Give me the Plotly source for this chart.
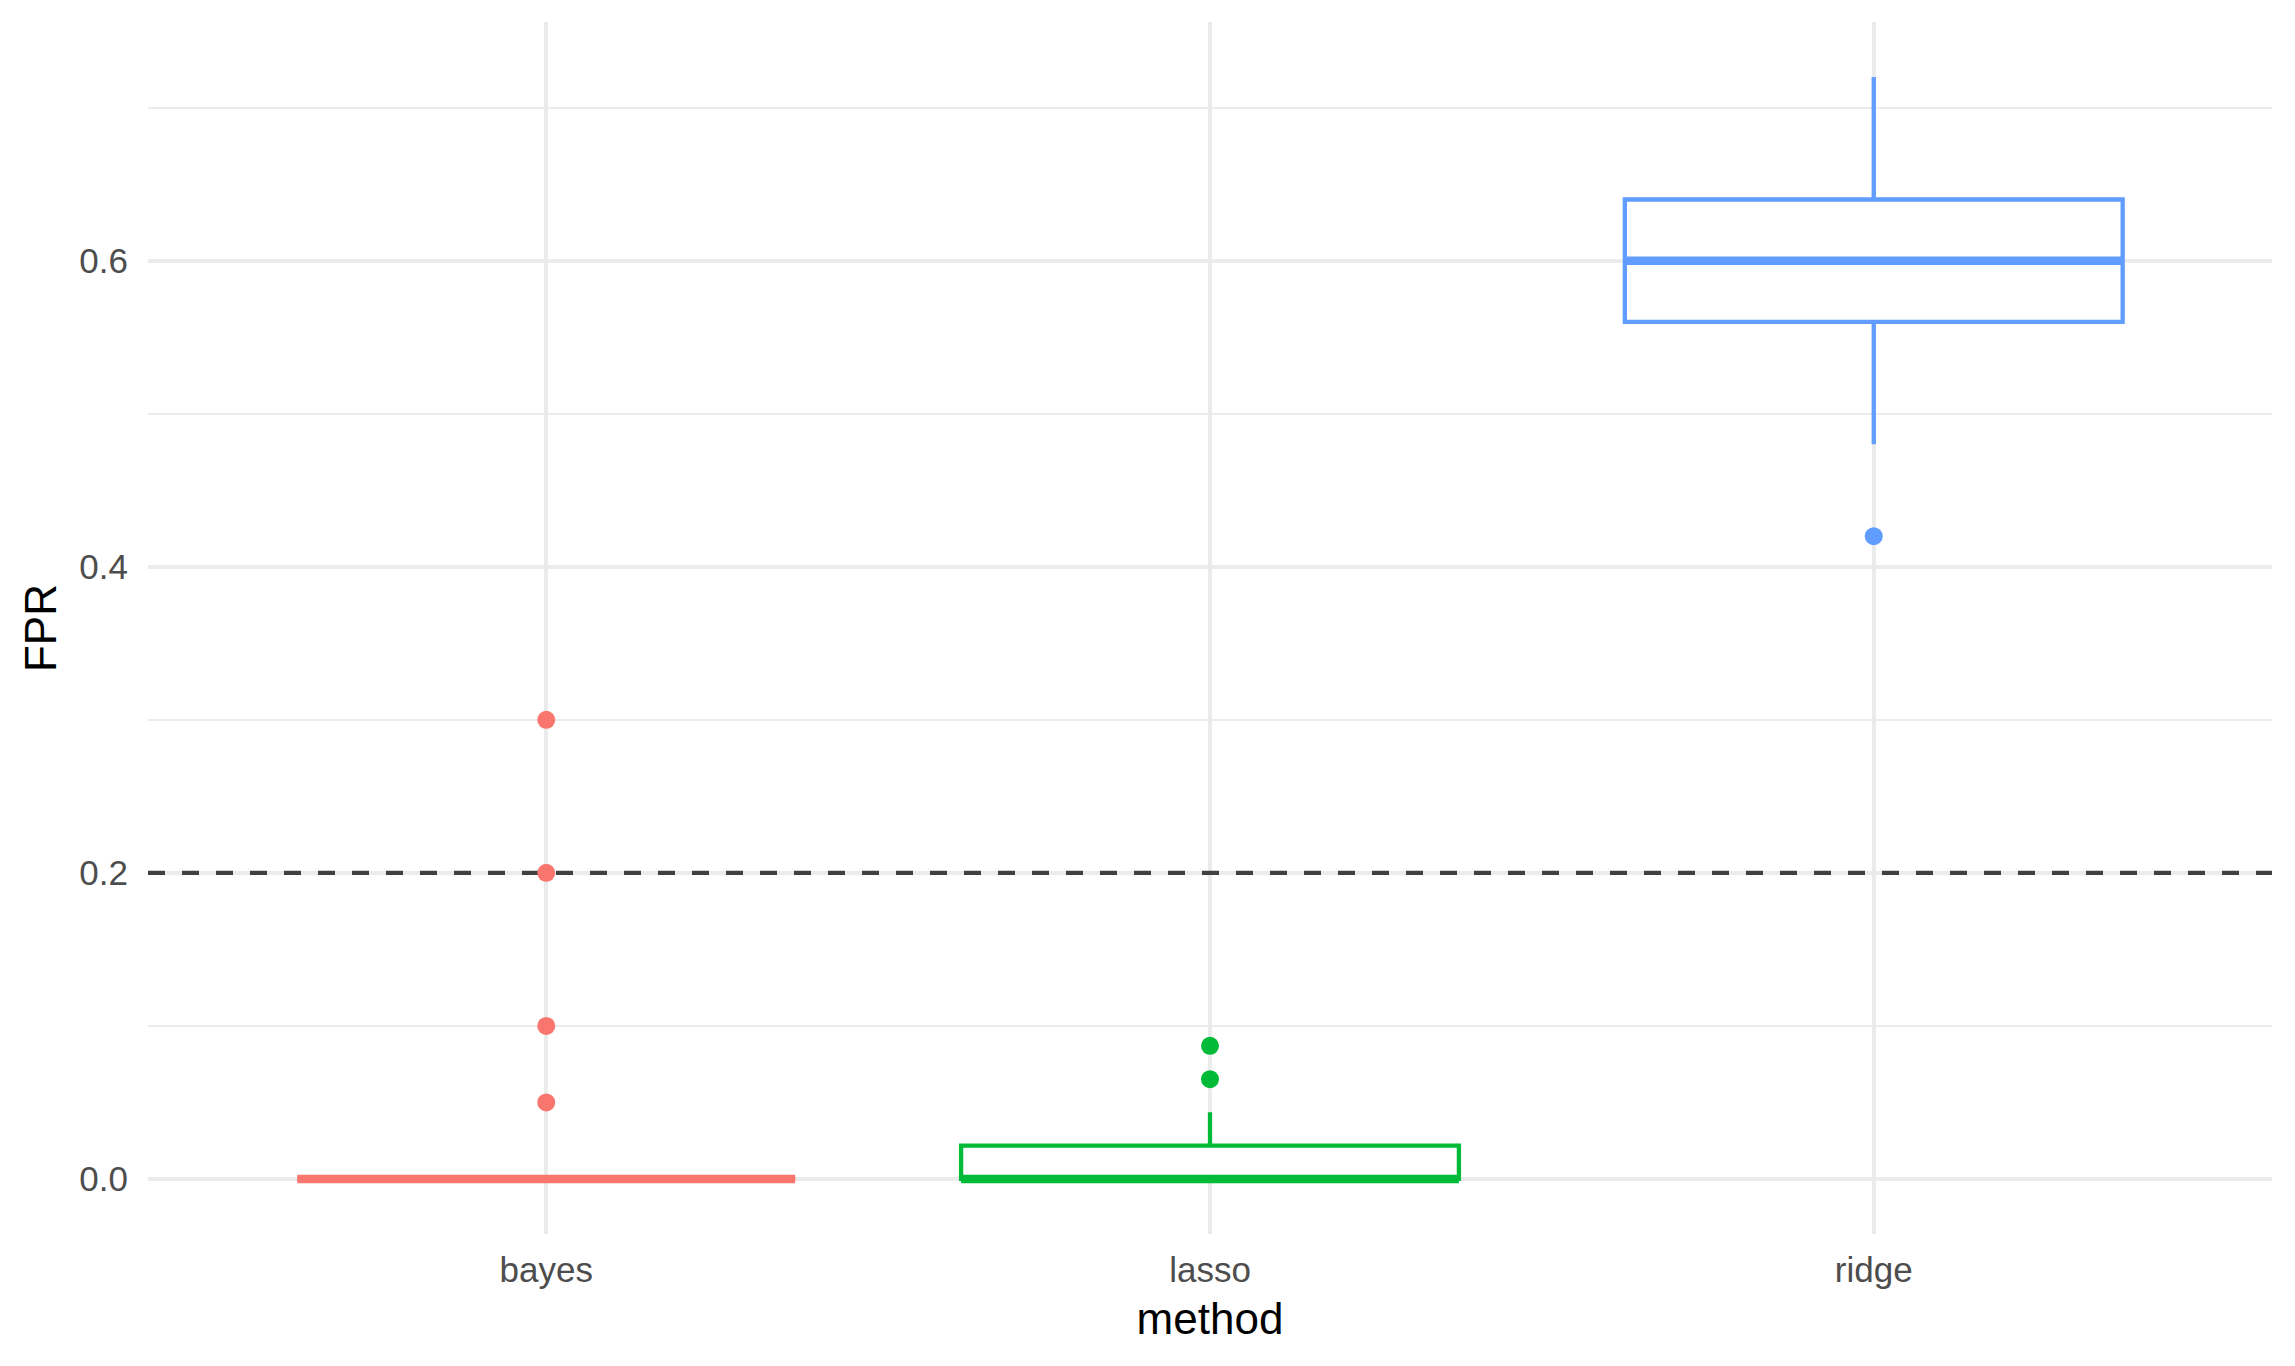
import plotly.graph_objects as go

# ---- data ----
categories = ["bayes", "lasso", "ridge"]
q1_vals = [0.0, 0.0, 0.56]
median_vals = [0.0, 0.0, 0.60]
q3_vals = [0.0, 0.0217, 0.64]
lower_whisker = [0.0, 0.0, 0.48]
upper_whisker = [0.0, 0.0435, 0.72]
outliers = {
    "bayes": [0.05, 0.10, 0.20, 0.30],
    "lasso": [0.0652, 0.0870],
    "ridge": [0.42],
}
threshold = 0.2
y_ticks = [0.0, 0.2, 0.4, 0.6]

colors = {"bayes": "#F8766D", "lasso": "#00BA38", "ridge": "#619CFF"}

FONT = "Liberation Sans, Arial, Helvetica, sans-serif"
BOX_W = 0.75
X_RANGE = [-0.6, len(categories) - 1 + 0.6]   # ggplot discrete expansion

fig = go.Figure()

# boxes
for i, cat in enumerate(categories):
    fig.add_trace(go.Box(
        x=[cat], q1=[q1_vals[i]], median=[median_vals[i]], q3=[q3_vals[i]],
        lowerfence=[lower_whisker[i]], upperfence=[upper_whisker[i]],
        line=dict(color=colors[cat], width=4.3), fillcolor="white",
        whiskerwidth=0, boxpoints=False, showlegend=False, hoverinfo="skip",
        name=cat, width=BOX_W,
    ))

# fat median lines (ggplot fatten = 2)
for i, cat in enumerate(categories):
    m = median_vals[i]
    fig.add_trace(go.Box(
        x=[cat], q1=[m], median=[m], q3=[m], lowerfence=[m], upperfence=[m],
        line=dict(color=colors[cat], width=8.5), fillcolor="rgba(0,0,0,0)",
        whiskerwidth=0, boxpoints=False, showlegend=False, hoverinfo="skip",
        name=cat, width=BOX_W,
    ))

# outliers
for cat in categories:
    ys = outliers[cat]
    fig.add_trace(go.Scatter(
        x=[cat] * len(ys), y=ys, mode="markers",
        marker=dict(color=colors[cat], size=18, line=dict(width=0)),
        showlegend=False, hoverinfo="skip",
    ))

# dashed threshold line (above grid, below data)
fig.add_shape(type="line", xref="x", x0=X_RANGE[0], x1=X_RANGE[1], yref="y",
              y0=threshold, y1=threshold,
              line=dict(color="#404040", width=4.3, dash="17px,17px"), layer="between")

fig.update_layout(
    width=2295, height=1366,
    margin=dict(l=148, r=23, t=22, b=132),
    paper_bgcolor="white", plot_bgcolor="white",
    boxmode="overlay", boxgap=0.25,
    font=dict(family=FONT, color="#4D4D4D"),
    xaxis=dict(
        type="category", categoryorder="array", categoryarray=categories,
        range=X_RANGE,
        showgrid=True, gridcolor="#EBEBEB", gridwidth=4.3,
        zeroline=False, showline=False,
        ticks="outside", ticklen=5, tickcolor="rgba(0,0,0,0)",
        tickfont=dict(size=35, color="#4D4D4D", family=FONT),
        title=dict(text="method", font=dict(size=44, color="black", family=FONT), standoff=15),
    ),
    yaxis=dict(
        range=[-0.036, 0.756],
        tickvals=y_ticks, tickformat=".1f",
        showgrid=True, gridcolor="#EBEBEB", gridwidth=4.3,
        minor=dict(dtick=0.1, tick0=0, showgrid=True, gridcolor="#EBEBEB", gridwidth=2.1),
        zeroline=False, showline=False,
        ticks="outside", ticklen=12, tickcolor="rgba(0,0,0,0)",
        tickfont=dict(size=35, color="#4D4D4D", family=FONT),
        title=dict(text="FPR", font=dict(size=44, color="black", family=FONT), standoff=8),
    ),
)

fig.write_html("out.html")
